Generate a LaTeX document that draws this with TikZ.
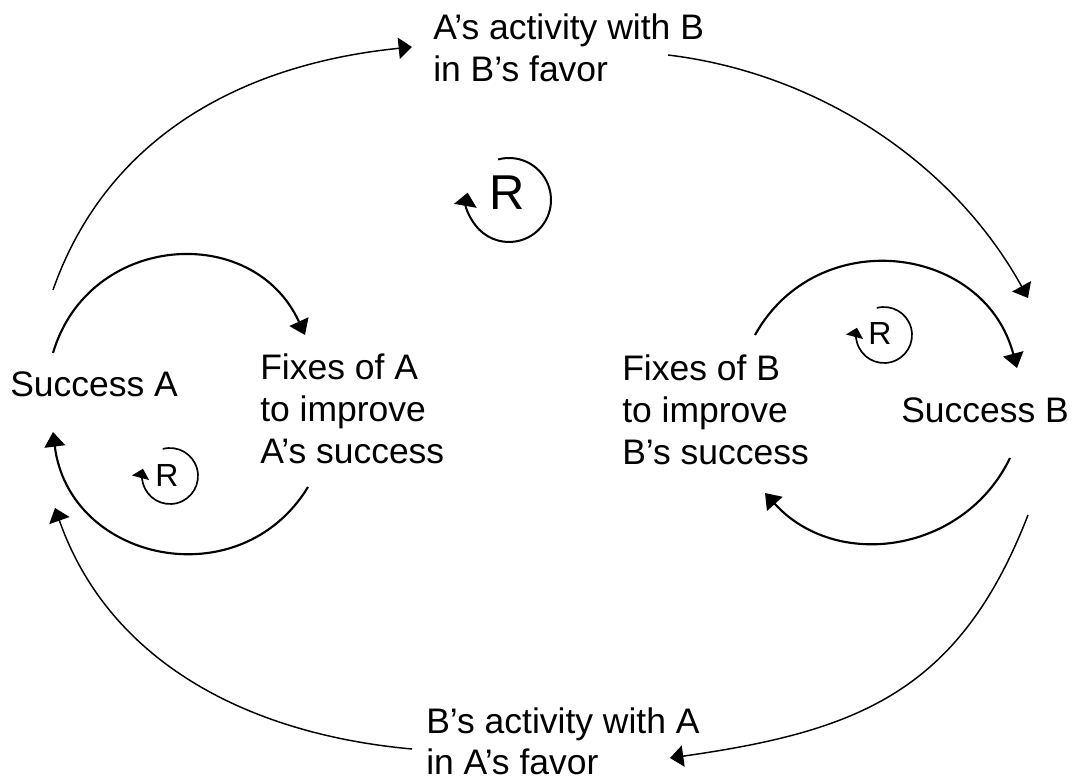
\documentclass[tikz,border=0pt]{standalone}
\usepackage{fontspec}
\setmainfont{Liberation Sans}
\usetikzlibrary{arrows.meta}
% multi-line label whose baseline is the first line
\newcommand\textlines[1]{\begin{tabular}[t]{@{}l@{}}#1\end{tabular}}
\begin{document}
\begin{tikzpicture}[x=0.75pt,y=-0.75pt,
  lbl/.style={inner sep=0pt, anchor=base west, font=\fontsize{26.6pt}{31.5pt}\selectfont},
  outer link/.style={line width=1.1pt, -{Triangle[length=10pt,width=16pt]}},
  inner link/.style={line width=1.6pt, -{Triangle[length=11pt,width=15.5pt]}},
  big loop/.style={line width=1.5pt, -{Triangle[length=10pt,width=17pt]}},
  small loop/.style={line width=1.25pt, -{Triangle[length=7pt,width=13pt]}},
  big mark/.style={inner sep=0pt, font=\fontsize{36.7pt}{40pt}\selectfont},
  small mark/.style={inner sep=0pt, font=\fontsize{24pt}{28pt}\selectfont}]
\useasboundingbox (0,0) rectangle (1076,784);

% variables
\node[lbl] (ab) at (433,40)  {\textlines{A’s activity with B\\in B’s favor}};
\node[lbl] (ba) at (426,733) {\textlines{B’s activity with A\\in A’s favor}};
\node[lbl] (sa) at (10,397)  {Success A};
\node[lbl] (sb) at (901,423) {Success B};
\node[lbl] (fa) at (260,380) {\textlines{Fixes of A\\to improve\\A’s success}};
\node[lbl] (fb) at (622,381) {\textlines{Fixes of B\\to improve\\B’s success}};

% connector ends
\coordinate (sa-up)   at (53,290);
\coordinate (ab-in)   at (412,47);
\coordinate (ab-out)  at (668,55);
\coordinate (sb-in)   at (1028,298);
\coordinate (sb-down) at (1028,515);
\coordinate (ba-in)   at (670,758);
\coordinate (ba-out)  at (412,749);
\coordinate (sa-in)   at (55,508);
\coordinate (sa-fix)  at (53,353);
\coordinate (fa-in)   at (305,335);
\coordinate (fa-out)  at (308,487);
\coordinate (sa-back) at (53,432);
\coordinate (fb-out)  at (755,335);
\coordinate (sb-fix)  at (1017,368);
\coordinate (sb-out)  at (1010,458);
\coordinate (fb-in)   at (765,493);

% outer reinforcing loop
\draw[outer link] (sa-up) .. controls (105.8,139.6) and (237.9,64.5) .. (ab-in);
\draw[outer link] (ab-out) .. controls (819.9,73.4) and (954.1,164.0) .. (sb-in);
\draw[outer link] (sb-down) .. controls (959.6,691.7) and (858.1,731.4) .. (ba-in);
\draw[outer link] (ba-out) .. controls (242.8,733.7) and (107.8,658.4) .. (sa-in);

% inner loops
\draw[inner link] (sa-fix) .. controls (88.3,233.0) and (253.1,221.2) .. (fa-in);
\draw[inner link] (fa-out) .. controls (239.9,598.7) and (69.2,561.8) .. (sa-back);
\draw[inner link] (fb-out) .. controls (817.2,223.2) and (984.3,244.2) .. (sb-fix);
\draw[inner link] (sb-out) .. controls (964.0,553.3) and (835.9,571.5) .. (fb-in);

% loop markers
\node[big mark] (r0) at (507,193) {R};
\coordinate (r0c) at (509,200);
\draw[big loop] (r0c) ++(255:42) arc[start angle=255, end angle=550, radius=42];

\node[small mark] (r1) at (167,475) {R};
\coordinate (r1c) at (170,476);
\draw[small loop] (r1c) ++(255:28) arc[start angle=255, end angle=555, radius=28];

\node[small mark] (r2) at (880,333) {R};
\coordinate (r2c) at (884,335);
\draw[small loop] (r2c) ++(255:28) arc[start angle=255, end angle=555, radius=28];
\end{tikzpicture}
\end{document}
